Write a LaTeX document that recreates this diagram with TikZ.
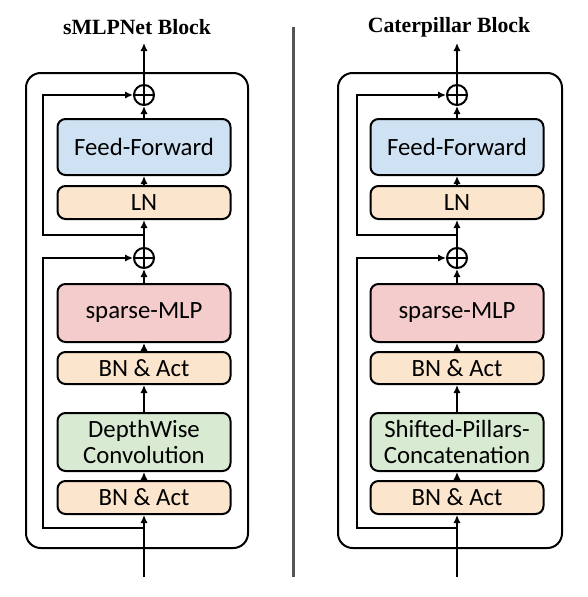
\documentclass[tikz,border=0pt]{standalone}
\usepackage{fontspec}
\setmainfont{Carlito}
\newfontfamily\titlefont{Liberation Serif}
\usetikzlibrary{arrows.meta}

\definecolor{ffblue}{RGB}{207,226,243}
\definecolor{lnorange}{RGB}{252,229,205}
\definecolor{mlppink}{RGB}{244,204,204}
\definecolor{convgreen}{RGB}{217,234,211}
\definecolor{divgray}{RGB}{85,85,85}

\begin{document}
\begin{tikzpicture}[x=0.75pt,y=-0.75pt,
    blk/.style={draw,line width=1.5pt,rounded corners=6pt,minimum width=129.75pt,
      inner sep=0pt,align=center,font=\fontsize{18.6}{18.8}\selectfont},
    plus/.style={draw,circle,line width=1.5pt,minimum size=15pt,inner sep=0pt,
      path picture={\draw[line width=1.5pt]
        (path picture bounding box.north) -- (path picture bounding box.south)
        (path picture bounding box.west) -- (path picture bounding box.east);}},
    title/.style={font=\titlefont\bfseries\fontsize{16.3}{18}\selectfont},
    flow/.style={line width=1.5pt,-{Latex[length=6pt,width=5.5pt]}},
    wire/.style={line width=1.5pt}]
        \useasboundingbox (0,0) rectangle (588,597);
        % sMLPNet block
        \node[title] (ltitle) at (137,27) {sMLPNet Block};
        \draw[wire,rounded corners=11pt] (26,73) rectangle (248,548);
        \node[plus] (lplusb) at (144,95) {};
        \node[blk,fill=ffblue,minimum height=42pt] (lff) at (144,147) {Feed-Forward};
        \node[blk,fill=lnorange,minimum height=24.75pt] (lln) at (144,202.5) {LN};
        \node[plus] (lplusa) at (144,258) {};
        \node[blk,fill=mlppink,minimum height=43.5pt] (lsmlp) at (144,313) {sparse-MLP};
        \node[blk,fill=lnorange,minimum height=24pt] (lbnb) at (144,368) {BN \& Act};
        \node[blk,fill=convgreen,minimum height=43.5pt] (ldw) at (144,442) {DepthWise\\Convolution};
        \node[blk,fill=lnorange,minimum height=24.75pt] (lbna) at (144,497.5) {BN \& Act};
        \coordinate (lin) at (144,577);
        \coordinate (lout) at (144,43);
        \coordinate (lska) at (144,528);
        \coordinate (lskb) at (144,235);
        \draw[flow] (lin) -- (lbna);
        \draw[flow] (lbna) -- (ldw);
        \draw[flow] (ldw) -- (lbnb);
        \draw[flow] (lbnb) -- (lsmlp);
        \draw[flow] (lsmlp) -- (lplusa);
        \draw[flow] (lplusa) -- (lln);
        \draw[flow] (lln) -- (lff);
        \draw[flow] (lff) -- (lplusb);
        \draw[flow] (lplusb) -- (lout);
        \draw[flow] (lska) -- (43,528) |- (lplusa);
        \draw[flow] (lskb) -- (43,235) |- (lplusb);
        % divider
        \draw[line width=2.25pt,color=divgray] (293,27) -- (293,577);
        % Caterpillar block
        \node[title] (rtitle) at (449,27) {Caterpillar Block};
        \draw[wire,rounded corners=11pt] (338,73) rectangle (562,548);
        \node[plus] (rplusb) at (457,95) {};
        \node[blk,fill=ffblue,minimum height=42pt] (rff) at (457,147) {Feed-Forward};
        \node[blk,fill=lnorange,minimum height=24.75pt] (rln) at (457,202.5) {LN};
        \node[plus] (rplusa) at (457,258) {};
        \node[blk,fill=mlppink,minimum height=43.5pt] (rsmlp) at (457,313) {sparse-MLP};
        \node[blk,fill=lnorange,minimum height=24pt] (rbnb) at (457,368) {BN \& Act};
        \node[blk,fill=convgreen,minimum height=43.5pt] (rspc) at (457,442) {Shifted-Pillars-\\Concatenation};
        \node[blk,fill=lnorange,minimum height=24.75pt] (rbna) at (457,497.5) {BN \& Act};
        \coordinate (rin) at (457,577);
        \coordinate (rout) at (457,43);
        \coordinate (rska) at (457,528);
        \coordinate (rskb) at (457,235);
        \draw[flow] (rin) -- (rbna);
        \draw[flow] (rbna) -- (rspc);
        \draw[flow] (rspc) -- (rbnb);
        \draw[flow] (rbnb) -- (rsmlp);
        \draw[flow] (rsmlp) -- (rplusa);
        \draw[flow] (rplusa) -- (rln);
        \draw[flow] (rln) -- (rff);
        \draw[flow] (rff) -- (rplusb);
        \draw[flow] (rplusb) -- (rout);
        \draw[flow] (rska) -- (357,528) |- (rplusa);
        \draw[flow] (rskb) -- (357,235) |- (rplusb);
\end{tikzpicture}
\end{document}
